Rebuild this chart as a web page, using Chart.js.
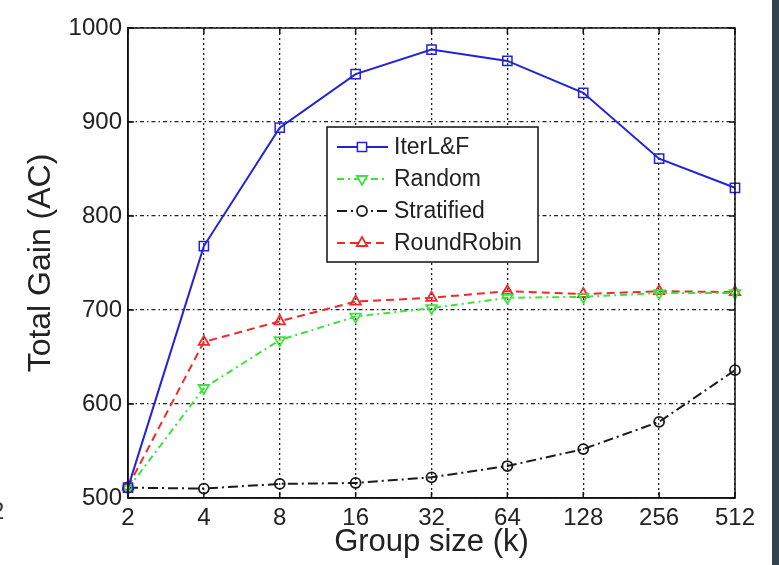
<!DOCTYPE html>
<html>
<head>
<meta charset="utf-8">
<script src="https://cdn.jsdelivr.net/npm/chart.js@4"></script>
<style>
  html, body { margin: 0; padding: 0; background: #ffffff; overflow: hidden; }
  #wrap { position: relative; width: 779px; height: 565px; }
  #strip { position: absolute; left: 772px; top: 0; width: 7px; height: 565px; background: #36444e; }
  #cut { position: absolute; left: -9px; top: 497px; font: 24px "Liberation Sans", Arial, sans-serif; color: #333; }
</style>
</head>
<body>
<div id="wrap">
  <canvas id="c" width="779" height="565"></canvas>
  <span id="cut">2</span>
  <div id="strip"></div>
</div>
<script>
const categories = ['2', '4', '8', '16', '32', '64', '128', '256', '512'];
const yTicks = [500, 600, 700, 800, 900, 1000];
const iterLF = [511, 768, 894, 951, 977, 965, 931, 861, 830];
const random = [510, 617, 668, 693, 702, 713, 714, 718, 718];
const stratified = [511, 510, 515, 516, 522, 534, 552, 581, 636];
const roundRobin = [512, 666, 688, 709, 713, 720, 717, 720, 719];
const seriesNames = ['IterL&F', 'Random', 'Stratified', 'RoundRobin'];

const FONT = '"Liberation Sans", Arial, Helvetica, sans-serif';
const TXT = '#222222';

const datasets = [
  { label: seriesNames[0], data: iterLF, borderColor: '#2222dd', borderWidth: 2, borderDash: [],
    pointStyle: 'rect', pointRadius: 6.5, pointBorderWidth: 1.5, pointBorderColor: '#2222dd', pointBackgroundColor: 'rgba(0,0,0,0)', pointRotation: 0 },
  { label: seriesNames[1], data: random, borderColor: '#3ee23e', borderWidth: 2, borderDash: [7, 4, 2, 4],
    pointStyle: 'triangle', pointRadius: 6, pointBorderWidth: 1.8, pointBorderColor: '#3ee23e', pointBackgroundColor: 'rgba(0,0,0,0)', pointRotation: 180 },
  { label: seriesNames[2], data: stratified, borderColor: '#1a1a1a', borderWidth: 2, borderDash: [10, 4, 2, 4],
    pointStyle: 'circle', pointRadius: 5, pointBorderWidth: 1.8, pointBorderColor: '#1a1a1a', pointBackgroundColor: 'rgba(0,0,0,0)', pointRotation: 0 },
  { label: seriesNames[3], data: roundRobin, borderColor: '#ee2a2a', borderWidth: 2, borderDash: [8, 5],
    pointStyle: 'triangle', pointRadius: 6, pointBorderWidth: 1.8, pointBorderColor: '#ee2a2a', pointBackgroundColor: 'rgba(0,0,0,0)', pointRotation: 0 }
];
datasets.forEach(d => { d.fill = false; d.tension = 0; d.pointHoverRadius = d.pointRadius; });

const boxPlugin = {
  id: 'boxPlugin',
  afterDatasetsDraw(chart) {
    const ctx = chart.ctx;
    const a = chart.chartArea;
    const xs = chart.scales.x, ys = chart.scales.y;
    ctx.save();
    ctx.strokeStyle = '#111';
    ctx.lineWidth = 1.5;
    ctx.setLineDash([]);
    ctx.strokeRect(a.left, a.top, a.right - a.left, a.bottom - a.top);
    const tl = 6;
    ctx.beginPath();
    yTicks.forEach(v => {
      const y = ys.getPixelForValue(v);
      ctx.moveTo(a.left, y); ctx.lineTo(a.left + tl, y);
      ctx.moveTo(a.right, y); ctx.lineTo(a.right - tl, y);
    });
    categories.forEach((c, i) => {
      const x = xs.getPixelForValue(i);
      ctx.moveTo(x, a.bottom); ctx.lineTo(x, a.bottom - tl);
      ctx.moveTo(x, a.top); ctx.lineTo(x, a.top + tl);
    });
    ctx.stroke();

    // legend inside the plot
    const bx = 327, by = 127, bw = 211, bh = 135;
    ctx.fillStyle = '#ffffff';
    ctx.fillRect(bx, by, bw, bh);
    ctx.strokeStyle = '#111';
    ctx.lineWidth = 1.5;
    ctx.strokeRect(bx, by, bw, bh);
    const rows = [147, 179, 211, 243];
    chart.data.datasets.forEach((d, i) => {
      const y = rows[i];
      ctx.save();
      ctx.strokeStyle = d.borderColor;
      ctx.lineWidth = 2;
      ctx.setLineDash(d.borderDash);
      ctx.beginPath();
      ctx.moveTo(337, y); ctx.lineTo(388, y);
      ctx.stroke();
      ctx.setLineDash([]);
      ctx.fillStyle = '#ffffff';
      ctx.strokeStyle = d.pointBorderColor;
      ctx.lineWidth = d.pointBorderWidth;
      Chart.helpers.drawPoint(ctx, { pointStyle: d.pointStyle, rotation: d.pointRotation, radius: d.pointRadius, borderWidth: d.pointBorderWidth }, 362, y);
      ctx.restore();
      ctx.fillStyle = TXT;
      ctx.font = '23px ' + FONT;
      ctx.textBaseline = 'middle';
      ctx.textAlign = 'left';
      ctx.fillText(d.label, 394, y + 1);
    });
    ctx.restore();
  }
};

new Chart(document.getElementById('c'), {
  type: 'line',
  data: { labels: categories, datasets: datasets },
  options: {
    responsive: false,
    devicePixelRatio: 1,
    animation: false,
    layout: { padding: { left: 0, top: 28, right: 44, bottom: 0 } },
    plugins: { legend: { display: false }, tooltip: { enabled: false } },
    scales: {
      x: {
        type: 'category',
        offset: false,
        grid: { color: '#222', lineWidth: 1.3, drawTicks: false },
        border: { display: true, color: '#111', width: 1.5, dash: [2, 3] },
        ticks: { color: TXT, font: { family: FONT, size: 24 }, padding: 6, maxRotation: 0, autoSkip: false },
        title: { display: true, text: 'Group size (k)', color: TXT, font: { family: FONT, size: 31 }, padding: { top: 0, bottom: 4 } },
        afterFit(s) { s.height = 67; }
      },
      y: {
        min: 500, max: 1000,
        afterBuildTicks(s) { s.ticks = yTicks.map(v => ({ value: v })); },
        grid: { color: '#222', lineWidth: 1.3, drawTicks: false },
        border: { display: true, color: '#111', width: 1.5, dash: [4, 3, 1.5, 3] },
        ticks: { color: TXT, font: { family: FONT, size: 24 }, padding: 6, callback: (v) => String(v) },
        title: { display: true, text: 'Total Gain (AC)', color: TXT, font: { family: FONT, size: 32 }, padding: { top: 22, bottom: 0 } },
        afterFit(s) { s.width = 128; }
      }
    }
  },
  plugins: [boxPlugin]
});
</script>
</body>
</html>
